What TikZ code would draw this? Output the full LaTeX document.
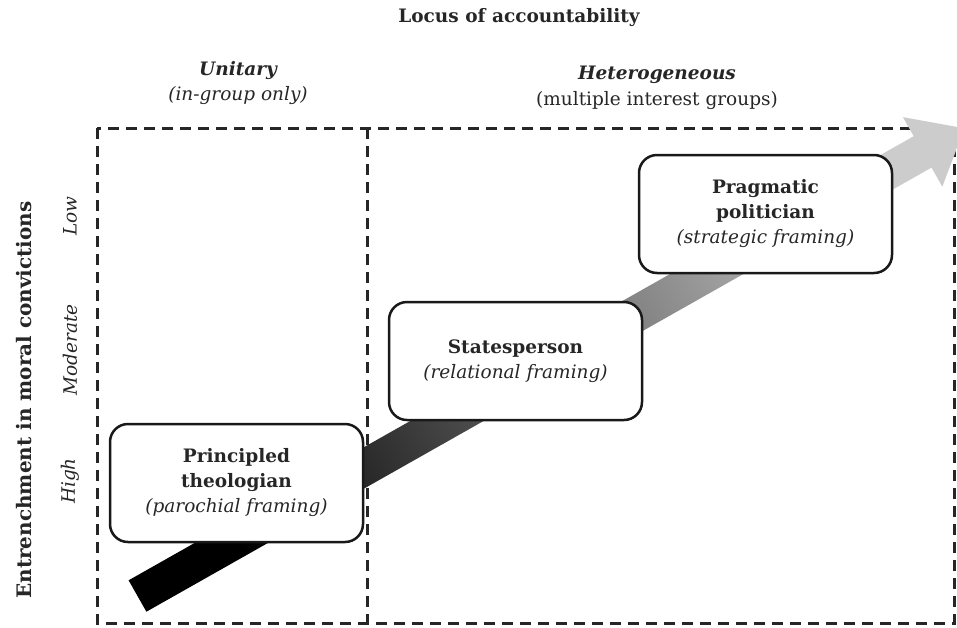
\documentclass[tikz,border=0pt]{standalone}
\usepackage{fontspec}
\setmainfont{DejaVu Serif}
\begin{document}
\begin{tikzpicture}[x=1pt,y=-1pt,
  dashline/.style={line width=3pt, dash pattern=on 11pt off 7pt, draw=black!85},
  stagebox/.style={draw=black!90, line width=2.5pt, fill=white, rounded corners=18pt,
    minimum width=253pt, minimum height=118pt, align=center, inner sep=0pt,
    text=black!85, font=\fontsize{18.5}{25}\selectfont},
  lbl/.style={text=black!85, align=center, inner sep=0pt, font=\fontsize{18.5}{22}\selectfont},
  axlbl/.style={text=black!85, inner sep=0pt, rotate=90, font=\fontsize{18.5}{22}\selectfont\itshape}]
\useasboundingbox (0,0) rectangle (957,627);
% dashed frame
\draw[dashline] (97,128) rectangle (954,623);
\draw[dashline] (367,128) -- (367,623);
% arrow
\shade[top color=gray!40, bottom color=black, middle color=gray!80!black, shading angle=-60.5]
  (128.6,580.3) -- (913.7,136.2) -- (902.9,117.1) -- (964.4,128.3) -- (942.3,186.7)
  -- (931.5,167.6) -- (146.4,611.7) -- cycle;
% boxes
\node[stagebox] (theo) at (236.5,483) {\textbf{Principled}\\\textbf{theologian}\\\textit{(parochial framing)}};
\node[stagebox] (states) at (515.5,361) {\textbf{Statesperson}\\\textit{(relational framing)}};
\node[stagebox] (prag) at (765.5,214) {\textbf{Pragmatic}\\\textbf{politician}\\\textit{(strategic framing)}};
% titles
\node[lbl, font=\fontsize{18.5}{22}\selectfont\bfseries] (locus) at (519,18) {Locus of accountability};
\node[lbl, font=\fontsize{18.5}{22}\selectfont\bfseries\itshape] (unit) at (238,71) {Unitary};
\node[lbl, font=\fontsize{18.5}{22}\selectfont\itshape] (unitsub) at (238,96) {(in-group only)};
\node[lbl, font=\fontsize{18.5}{22}\selectfont\bfseries\itshape] (het) at (657,75) {Heterogeneous};
\node[lbl] (hetsub) at (657,101) {(multiple interest groups)};
\node[text=black!85, inner sep=0pt, rotate=90, font=\fontsize{20}{24}\selectfont\bfseries] (entr) at (24,400) {Entrenchment in moral convictions};
\node[axlbl] (low) at (70,216) {Low};
\node[axlbl] (mod) at (70,350) {Moderate};
\node[axlbl] (high) at (70,481) {High};
\end{tikzpicture}
\end{document}
